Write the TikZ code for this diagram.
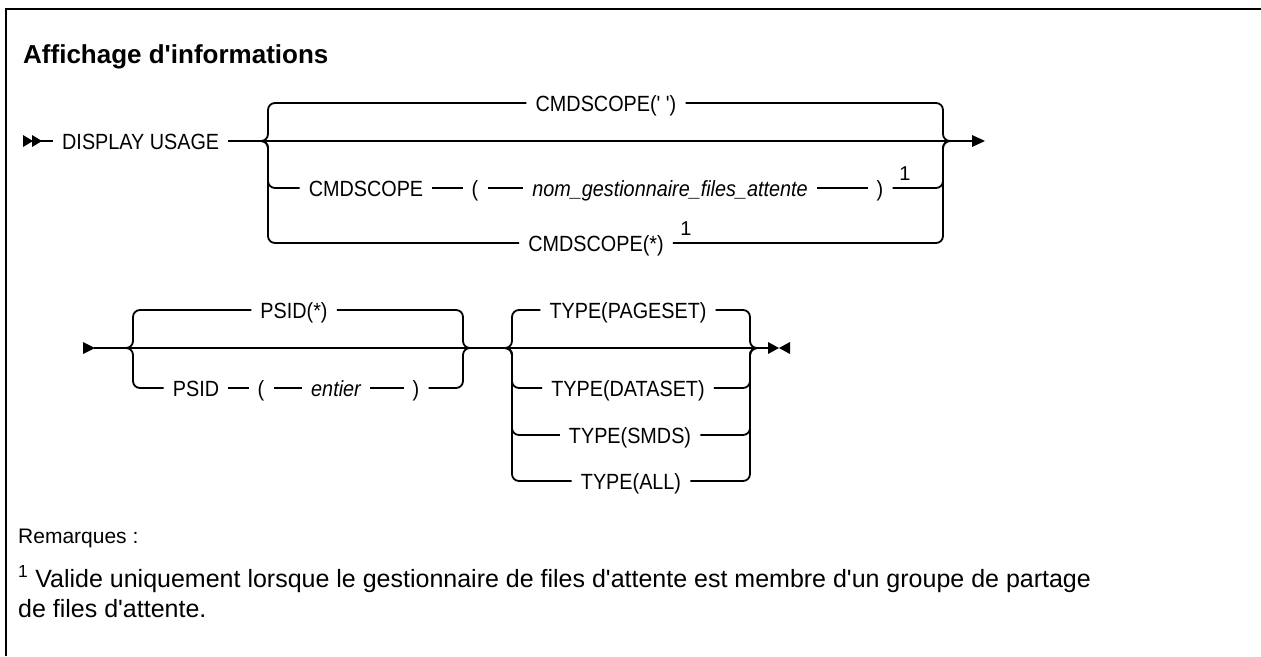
\documentclass[tikz,border=0pt]{standalone}
\usepackage{fontspec}
\newfontfamily\rrfont[FakeStretch=0.9]{Liberation Sans}
\newfontfamily\bodyfont{Liberation Sans}
\usetikzlibrary{positioning}

\begin{document}
\begin{tikzpicture}[x=1pt, y=-1pt,
  lbl/.style={inner xsep=9pt, inner ysep=0pt, text height=16pt, text depth=0pt, font=\rrfont\fontsize{22}{26}\selectfont},
  var/.style={lbl, font=\rrfont\itshape\fontsize{22}{26}\selectfont},
  fnote/.style={inner sep=0pt, font=\bodyfont\fontsize{20}{22}\selectfont},
  txt/.style={inner sep=0pt, font=\bodyfont\fontsize{25}{30}\selectfont},
  rail/.style={line width=1.8pt, rounded corners=7pt}]
\useasboundingbox (0,0) rectangle (1261,656);
\draw[line width=2.6pt] (6,656) -- (6,9) -- (1261,9);
\node[inner sep=0pt, anchor=base west, font=\bodyfont\bfseries\fontsize{26}{30}\selectfont] (title) at (23,63) {Affichage d'informations};

% row 1
\coordinate (s1) at (23,141);
\fill (s1) ++(0,-6) -- ++(10,6) -- ++(-10,6) -- cycle;
\fill (s1) ++(9,-6) -- ++(10,6) -- ++(-10,6) -- cycle;
\coordinate (s1b) at (32,141);
\node[lbl, anchor=west] (disp) at (53,141) {DISPLAY USAGE};
\coordinate (g1l) at (268,141);
\coordinate (g1a) at (260,141);
\coordinate (g1r) at (943,141);
\coordinate (g1b) at (951,141);
\coordinate (e1) at (972,141);
\node[lbl] (cs1) at (606,103) {CMDSCOPE(' ')};
\node[lbl] (cs2) at (366,188) {CMDSCOPE};
\node[lbl] (lp1) at (475,188) {(};
\node[var] (qm) at (670,188) {nom\_gestionnaire\_files\_attente};
\node[lbl] (rp1) at (880,188) {)};
\node[fnote] (fn1) at (905,174) {1};
\node[lbl] (cs3) at (596,243) {CMDSCOPE(*)};
\node[fnote] (fn2) at (686,229) {1};

\draw[line width=1.8pt] (s1b) -- (disp.west);
\draw[line width=1.8pt] (disp.east) -- (e1);
\fill (e1) ++(0,-6) -- ++(13,6) -- ++(-13,6) -- cycle;
\draw[rail] (g1a) -| (cs1.west -| g1l) -- (cs1.west);
\draw[rail] (cs1.east) -| (g1b -| g1r) -- (g1b);
\draw[rail] (g1a) -| (cs2.west -| g1l) -- (cs2.west);
\draw[line width=1.8pt] (cs2) -- (lp1) (lp1) -- (qm) (qm) -- (rp1);
\draw[rail] (rp1.east) -| (g1b -| g1r) -- (g1b);
\draw[rail] (g1a) -| (cs3.west -| g1l) -- (cs3.west);
\draw[rail] (cs3.east) -| (g1b -| g1r) -- (g1b);

% row 2
\coordinate (s2) at (83,348);
\fill (s2) ++(0,-6) -- ++(12,6) -- ++(-12,6) -- cycle;
\coordinate (s2b) at (94,348);
\coordinate (e2) at (768,348);
\coordinate (g2l) at (133,348);
\coordinate (g2a) at (125,348);
\coordinate (g2r) at (463,348);
\coordinate (g2b) at (471,348);
\coordinate (g3l) at (512,348);
\coordinate (g3a) at (504,348);
\coordinate (g3r) at (750,348);
\coordinate (g3b) at (758,348);
\node[lbl] (ps1) at (294,310) {PSID(*)};
\node[lbl] (ps2) at (196,388) {PSID};
\node[lbl] (lp2) at (261,388) {(};
\node[var] (ent) at (336,388) {entier};
\node[lbl] (rp2) at (416,388) {)};
\node[lbl] (ty1) at (628,310) {TYPE(PAGESET)};
\node[lbl] (ty2) at (628,388) {TYPE(DATASET)};
\node[lbl] (ty3) at (630,435) {TYPE(SMDS)};
\node[lbl] (ty4) at (631,481) {TYPE(ALL)};

\draw[line width=1.8pt] (s2b) -- (e2);
\draw[rail] (g2a) -| (ps1.west -| g2l) -- (ps1.west);
\draw[rail] (ps1.east) -| (g2b -| g2r) -- (g2b);
\draw[rail] (g2a) -| (ps2.west -| g2l) -- (ps2.west);
\draw[line width=1.8pt] (ps2) -- (lp2) (lp2) -- (ent) (ent) -- (rp2);
\draw[rail] (rp2.east) -| (g2b -| g2r) -- (g2b);
\foreach \t in {ty1,ty2,ty3,ty4}{
  \draw[rail] (g3a) -| (\t.west -| g3l) -- (\t.west);
  \draw[rail] (\t.east) -| (g3b -| g3r) -- (g3b);
}
\fill (e2) ++(0,-6) -- ++(11,6) -- ++(-11,6) -- cycle;
\fill (e2) ++(22,-6) -- ++(-11,6) -- ++(11,6) -- cycle;

% notes
\node[txt, anchor=base west, font=\bodyfont\fontsize{21}{26}\selectfont] (rem) at (18,543) {Remarques :};
\node[txt, anchor=base west] (note1) at (18,587) {\textsuperscript{1} Valide uniquement lorsque le gestionnaire de files d'attente est membre d'un groupe de partage};
\node[txt, anchor=base west] (note2) at (18,617) {de files d'attente.};
\end{tikzpicture}
\end{document}
